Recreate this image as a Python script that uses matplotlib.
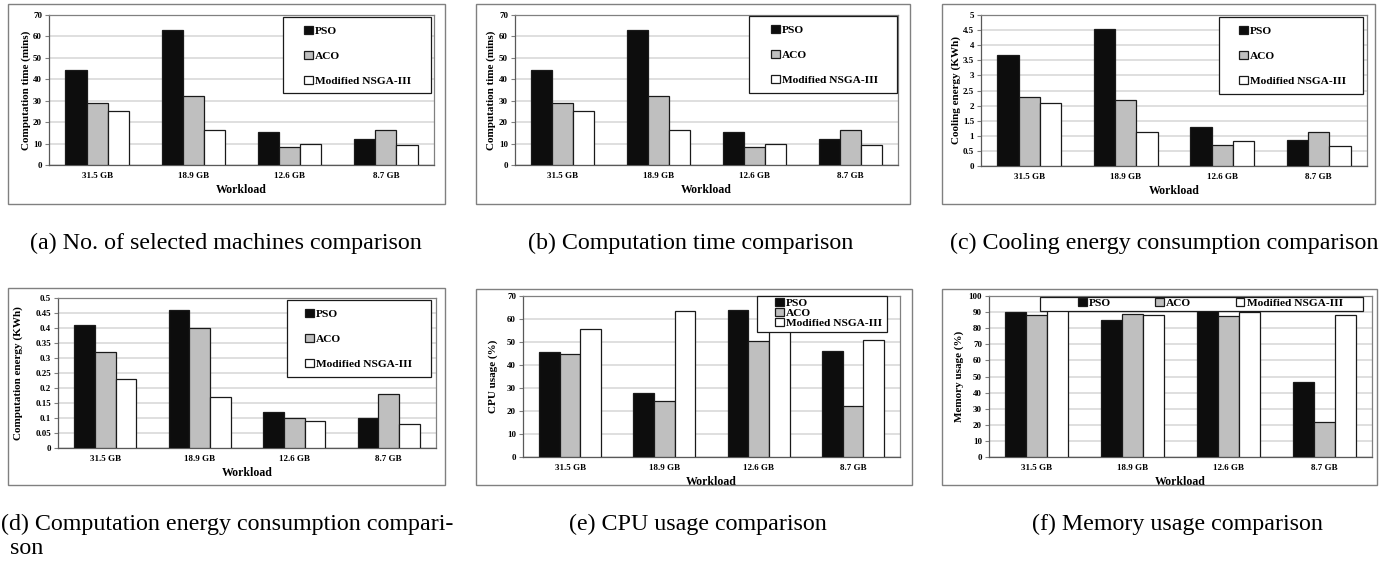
import matplotlib
matplotlib.use("Agg")
import matplotlib.pyplot as plt
from matplotlib.patches import Rectangle
from matplotlib.ticker import FuncFormatter
import numpy as np

plt.rcParams['font.family'] = ['Liberation Serif', 'DejaVu Serif']

# ---- data ----
workloads = ["31.5 GB", "18.9 GB", "12.6 GB", "8.7 GB"]
algos = ["PSO", "ACO", "Modified NSGA-III"]

time_pso = [44.3, 62.8, 15.6, 12.0]
time_aco = [29.0, 32.0, 8.5, 16.5]
time_nsga = [25.3, 16.3, 10.0, 9.4]

cool_pso = [3.68, 4.53, 1.28, 0.85]
cool_aco = [2.30, 2.20, 0.70, 1.13]
cool_nsga = [2.10, 1.13, 0.83, 0.66]

comp_pso = [0.41, 0.46, 0.12, 0.10]
comp_aco = [0.32, 0.40, 0.10, 0.18]
comp_nsga = [0.23, 0.17, 0.09, 0.08]

cpu_pso = [45.5, 28.0, 64.0, 46.3]
cpu_aco = [45.0, 24.5, 50.3, 22.0]
cpu_nsga = [55.5, 63.5, 56.0, 51.0]

mem_pso = [90.0, 85.0, 91.0, 46.3]
mem_aco = [88.0, 89.0, 87.5, 22.0]
mem_nsga = [91.0, 88.5, 90.0, 88.5]

captions = ["(a) No. of selected machines comparison",
            "(b) Computation time comparison",
            "(c) Cooling energy consumption comparison",
            "(d) Computation energy consumption compari-",
            "son",
            "(e) CPU usage comparison",
            "(f) Memory usage comparison"]

W, H = 1397, 564
fig = plt.figure(figsize=(W / 100, H / 100), dpi=100)


def px_rect(x0, y0, x1, y1):
    # pixel box (top-left origin) -> figure fraction
    return [x0 / W, 1 - y1 / H, (x1 - x0) / W, (y1 - y0) / H]


colors = ["#0d0d0d", "#bfbfbf", "#ffffff"]


def panel(box, axbox, series, ymax, ystep, ylabel, ylab_x, leg):
    fig.patches.append(Rectangle((box[0] / W, 1 - box[3] / H),
                                 (box[2] - box[0]) / W, (box[3] - box[1]) / H,
                                 transform=fig.transFigure, fill=False,
                                 edgecolor="#808080", lw=1.0))
    ax = fig.add_axes(px_rect(*axbox))
    axw = axbox[2] - axbox[0]
    axh = axbox[3] - axbox[1]
    x = np.arange(len(workloads))
    bw = 0.22
    for i, vals in enumerate(series):
        ax.bar(x + (i - 1) * bw, vals, bw, color=colors[i], edgecolor="#1a1a1a",
               lw=0.9, label=algos[i], zorder=3)
    ax.set_xlim(-0.5, 3.5)
    ax.set_ylim(0, ymax)
    ax.set_yticks(np.arange(0, ymax + ystep / 2, ystep))
    ax.yaxis.set_major_formatter(FuncFormatter(lambda v, p: "%g" % round(v, 3)))
    ax.set_xticks(x)
    ax.set_xticklabels(workloads, fontsize=6.5, fontweight="bold")
    ax.tick_params(axis="x", length=0, pad=5)
    ax.tick_params(axis="y", length=3, width=0.8, color="#808080", labelsize=6.5, pad=2)
    for t in ax.get_yticklabels():
        t.set_fontweight("bold")
    ax.grid(axis="y", color="#d9d9d9", lw=1.2, zorder=0)
    ax.set_axisbelow(True)
    for s in ax.spines.values():
        s.set_color("#808080")
        s.set_linewidth(0.9)
    ax.spines["left"].set_color("#595959")
    ax.spines["bottom"].set_color("#595959")
    ax.set_ylabel(ylabel, fontsize=8, fontweight="bold")
    ax.yaxis.set_label_coords((ylab_x + 6 - axbox[0]) / axw, 0.5)
    ax.set_xlabel("Workload", fontsize=8.5, fontweight="bold", labelpad=3)

    # legend frame (pixel box) and entries
    fx0, fy0, fx1, fy1 = leg["frame"]
    ax.add_patch(Rectangle(((fx0 - axbox[0]) / axw, (axbox[3] - fy1) / axh),
                           (fx1 - fx0) / axw, (fy1 - fy0) / axh,
                           transform=ax.transAxes, facecolor="white",
                           edgecolor="#1a1a1a", lw=0.9, zorder=9, clip_on=False))
    ax_, ay_ = leg["anchor"]
    lg = ax.legend(loc="upper left",
                   bbox_to_anchor=((ax_ - axbox[0]) / axw, (axbox[3] - ay_) / axh),
                   ncol=leg.get("ncol", 1), prop={"weight": "bold", "size": 8.2},
                   handlelength=0.75, handleheight=0.75, handletextpad=0.2,
                   labelspacing=leg.get("ls", 1.31), borderpad=0,
                   columnspacing=leg.get("cs", 2.0), frameon=False,
                   borderaxespad=0)
    lg.set_zorder(10)
    return ax


panel((8, 4, 445, 204), (49, 15, 434, 165), [time_pso, time_aco, time_nsga],
      70, 10, "Computation time (mins)", 25,
      {"frame": (283, 17, 431, 93), "anchor": (304, 26)})
panel((476, 4, 910, 204), (515, 15, 898, 165), [time_pso, time_aco, time_nsga],
      70, 10, "Computation time (mins)", 490,
      {"frame": (749, 16, 897, 93), "anchor": (771, 25)})
panel((942, 4, 1375, 204), (981, 15, 1367, 166), [cool_pso, cool_aco, cool_nsga],
      5, 0.5, "Cooling energy (KWh)", 955,
      {"frame": (1219, 17, 1363, 94), "anchor": (1239, 26)})
panel((8, 288, 445, 485), (58, 298, 436, 448), [comp_pso, comp_aco, comp_nsga],
      0.5, 0.05, "Computation energy (KWh)", 17,
      {"frame": (287, 300, 431, 377), "anchor": (305, 309)})
panel((476, 289, 912, 485), (523, 296, 900, 457), [cpu_pso, cpu_aco, cpu_nsga],
      70, 10, "CPU usage (%)", 492,
      {"frame": (757, 296, 887, 332), "anchor": (775, 297.5), "ls": 0.0})
panel((942, 289, 1377, 485), (989, 296, 1372, 457), [mem_pso, mem_aco, mem_nsga],
      100, 10, "Memory usage (%)", 958,
      {"frame": (1040, 297, 1363, 311), "anchor": (1078, 297.5), "ncol": 3, "cs": 3.9})

# captions
cap = dict(fontsize=17.3, va="center")
fig.text(226 / W, 1 - 243 / H, captions[0], ha="center", **cap)
fig.text(691 / W, 1 - 243 / H, captions[1], ha="center", **cap)
fig.text(1164 / W, 1 - 243 / H, captions[2], ha="center", **cap)
fig.text(1 / W, 1 - 524 / H, captions[3], ha="left", **cap)
fig.text(10 / W, 1 - 548 / H, captions[4], ha="left", **cap)
fig.text(698 / W, 1 - 524 / H, captions[5], ha="center", **cap)
fig.text(1178 / W, 1 - 524 / H, captions[6], ha="center", **cap)

fig.savefig("out.png", dpi=100)
